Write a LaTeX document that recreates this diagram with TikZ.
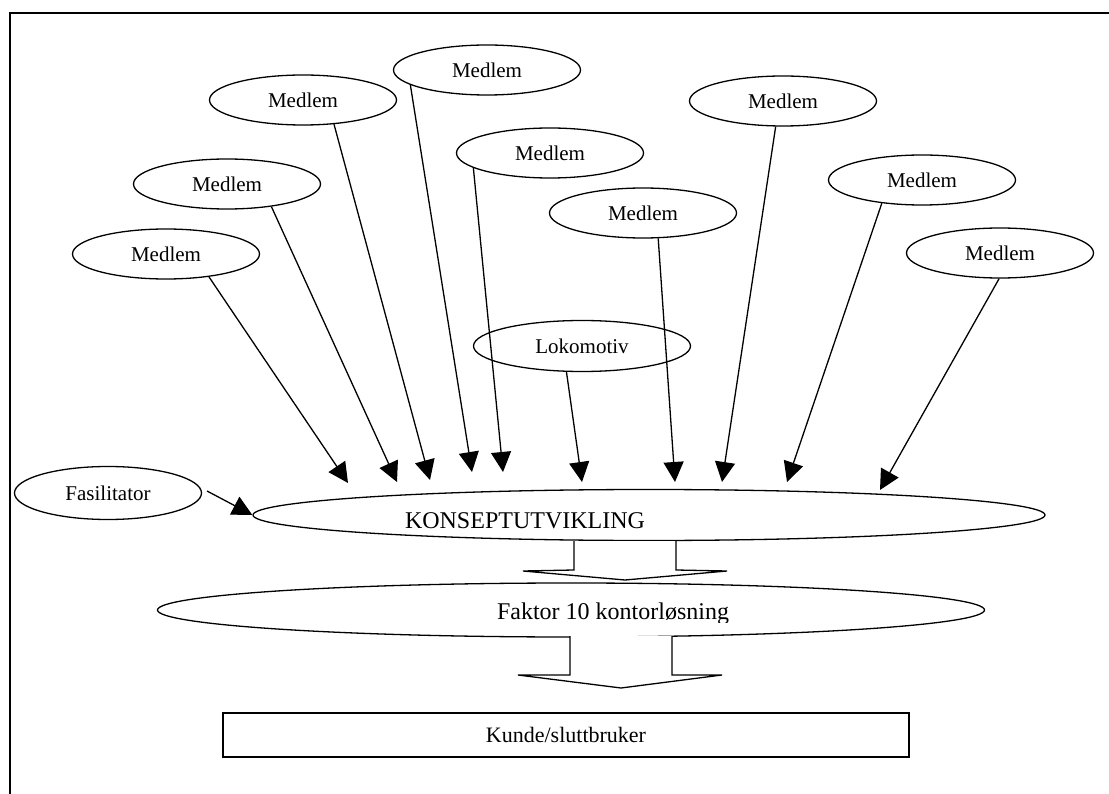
\documentclass[tikz,border=0pt]{standalone}
\usepackage{fontspec}
\setmainfont{Liberation Serif}
\usetikzlibrary{shapes.geometric,arrows.meta}
\begin{document}
\begin{tikzpicture}[x=1pt,y=-1pt,
  ell/.style={draw,ellipse,line width=1.3pt,inner sep=0pt,minimum width=187pt,minimum height=50pt,font=\fontsize{21}{24}\selectfont},
  conn/.style={line width=1.3pt,-{Triangle[length=20pt,width=20pt]}},
  blockarrow/.style={draw,fill=white,line width=1.3pt,line join=miter},
  lbl/.style={inner sep=0pt,font=\fontsize{21}{24}\selectfont},
  biglbl/.style={inner sep=0pt,font=\fontsize{24}{28}\selectfont}]
\useasboundingbox (0,0) rectangle (1109,794);
% frame
\draw[line width=2pt] (9.5,794) -- (9.5,13.5) -- (1109,13.5);

% member ellipses
\node[ell] (m1) at (166,254) {Medlem};
\node[ell] (m2) at (227,184) {Medlem};
\node[ell] (m3) at (303,100) {Medlem};
\node[ell] (m4) at (487,70) {Medlem};
\node[ell] (m5) at (550,153) {Medlem};
\node[ell] (m6) at (643,213) {Medlem};
\node[ell] (m7) at (783,101) {Medlem};
\node[ell] (m8) at (922,180) {Medlem};
\node[ell] (m9) at (1000,253) {Medlem};
\node[ell,minimum width=217pt,minimum height=51pt] (lok) at (582,346) {Lokomotiv};
\node[ell,minimum height=53pt] (fas) at (108,493) {Fasilitator};

% central ellipse
\node[ell,minimum width=792pt,minimum height=51pt] (kon) at (649,515) {};
\node[biglbl] (kont) at (525,521) {KONSEPTUTVIKLING};

% arrow targets
\coordinate (t1) at (348,483);
\coordinate (t2) at (397,482);
\coordinate (t3) at (430,480);
\coordinate (t4) at (472,472);
\coordinate (t5) at (503,472);
\coordinate (tl) at (582,482);
\coordinate (t6) at (675,482);
\coordinate (t7) at (722,482);
\coordinate (t8) at (787,482);
\coordinate (t9) at (880,490);
\coordinate (fs) at (207,491);

\draw[conn] (m1.-28) -- (t1);
\draw[conn] (m2.-27) -- (t2);
\draw[conn] (m3.-38) -- (t3);
\draw[conn] (m4.-169) -- (t4);
\draw[conn] (m5.-169) -- (t5);
\draw[conn] (lok.-121) -- (tl);
\draw[conn] (m6.-59) -- (t6);
\draw[conn] (m7.-106) -- (t7);
\draw[conn] (m8.-150) -- (t8);
\draw[conn] (m9.-92) -- (t9);
\draw[conn] (fs) -- (kon.west);

% block arrow 1
\draw[blockarrow] (574,541) -- (574,570) -- (523,571) -- (625,580) -- (727,571) -- (676,570) -- (676,541);

% second ellipse
\node[ell,minimum width=827pt,minimum height=54pt] (fak) at (571,610) {};
\begin{scope}
  \clip (150,570) rectangle (1000,622);
  \node[biglbl,anchor=base] (fakt) at (613,619) {Faktor 10 kontorløsning};
\end{scope}

% block arrow 2
\draw[blockarrow] (570,636) -- (570,675) -- (518,675) -- (621,688) -- (722,675) -- (672,675) -- (672,636);

% customer box
\node[lbl,font=\fontsize{22}{26}\selectfont,draw,line width=1.3pt,minimum width=686pt,minimum height=44pt] (kun) at (566,735) {Kunde/sluttbruker};
\end{tikzpicture}
\end{document}
